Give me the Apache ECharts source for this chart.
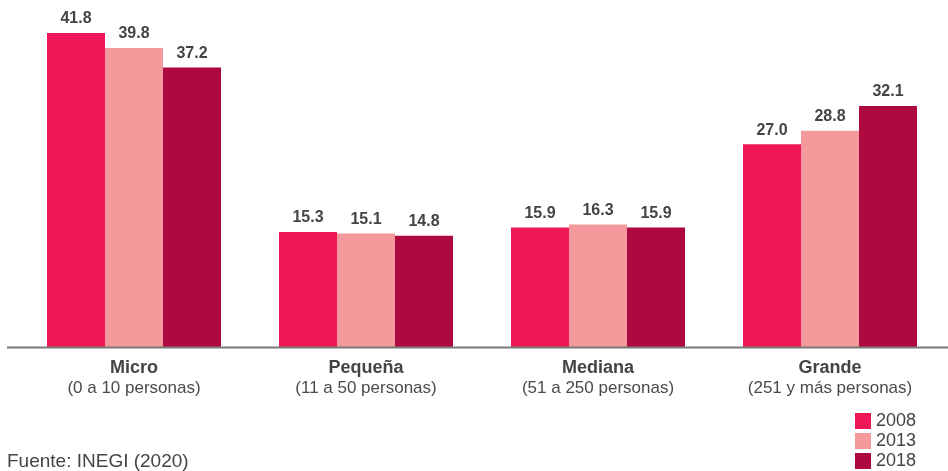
<!DOCTYPE html>
<html>
<head>
<meta charset="utf-8">
<script src="https://cdn.jsdelivr.net/npm/echarts@6/dist/echarts.min.js"></script>
<style>
html,body{margin:0;padding:0;background:#fff;}
#c{width:948px;height:471px;}
</style>
</head>
<body>
<div id="c"></div>
<script>
var categories = ['Micro', 'Pequeña', 'Mediana', 'Grande'];
var subtitles = ['(0 a 10 personas)', '(11 a 50 personas)', '(51 a 250 personas)', '(251 y más personas)'];
var seriesNames = ['2008', '2013', '2018'];
var values2008 = [41.8, 15.3, 15.9, 27.0];
var values2013 = [39.8, 15.1, 16.3, 28.8];
var values2018 = [37.2, 14.8, 15.9, 32.1];
var colors = ['#EE1859', '#F4999C', '#AE0A40'];
var sourceText = 'Fuente: INEGI (2020)';

var FONT = '"Liberation Sans", Arial, Helvetica, sans-serif';
var allValues = [values2008, values2013, values2018];

var chart = echarts.init(document.getElementById('c'), null, {renderer: 'canvas'});
var series = seriesNames.map(function (n, i) {
  return {
    name: n,
    type: 'bar',
    data: allValues[i],
    barGap: '0%',
    barCategoryGap: '25%',
    itemStyle: {color: colors[i]},
    label: {
      show: true,
      position: 'top',
      distance: 6,
      fontFamily: FONT,
      fontSize: 16,
      fontWeight: 'bold',
      color: '#444',
      formatter: function (p) { return p.value.toFixed(1); }
    }
  };
});

chart.setOption({
  animation: false,
  backgroundColor: '#fff',
  grid: {left: 18, right: 2, top: 12, bottom: 124, containLabel: false},
  xAxis: {
    type: 'category',
    data: categories,
    axisLine: {show: false},
    axisTick: {show: false},
    axisLabel: {
      margin: 11,
      formatter: function (v, idx) { return '{b|' + v + '}\n{n|' + subtitles[idx] + '}'; },
      rich: {
        b: {fontFamily: FONT, fontSize: 18, fontWeight: 'bold', color: '#444', lineHeight: 20},
        n: {fontFamily: FONT, fontSize: 17, color: '#4a4a4a', lineHeight: 20}
      }
    }
  },
  yAxis: {
    type: 'value',
    min: 0,
    max: 44.6,
    show: false,
    splitLine: {show: false}
  },
  legend: {
    orient: 'vertical',
    left: 855,
    top: 412,
    height: 80,
    itemWidth: 16,
    itemHeight: 16,
    itemGap: 2,
    icon: 'rect',
    padding: 0,
    data: seriesNames,
    textStyle: {fontFamily: FONT, fontSize: 18, color: '#444'}
  },
  graphic: [
    {type: 'line', shape: {x1: 7, y1: 347.5, x2: 948, y2: 347.5}, style: {stroke: '#7a7a7a', lineWidth: 2}, z: 10},
    {type: 'text', left: 7, top: 452, style: {text: sourceText, font: '19px ' + FONT, fill: '#444'}}
  ],
  series: series
});
</script>
</body>
</html>
